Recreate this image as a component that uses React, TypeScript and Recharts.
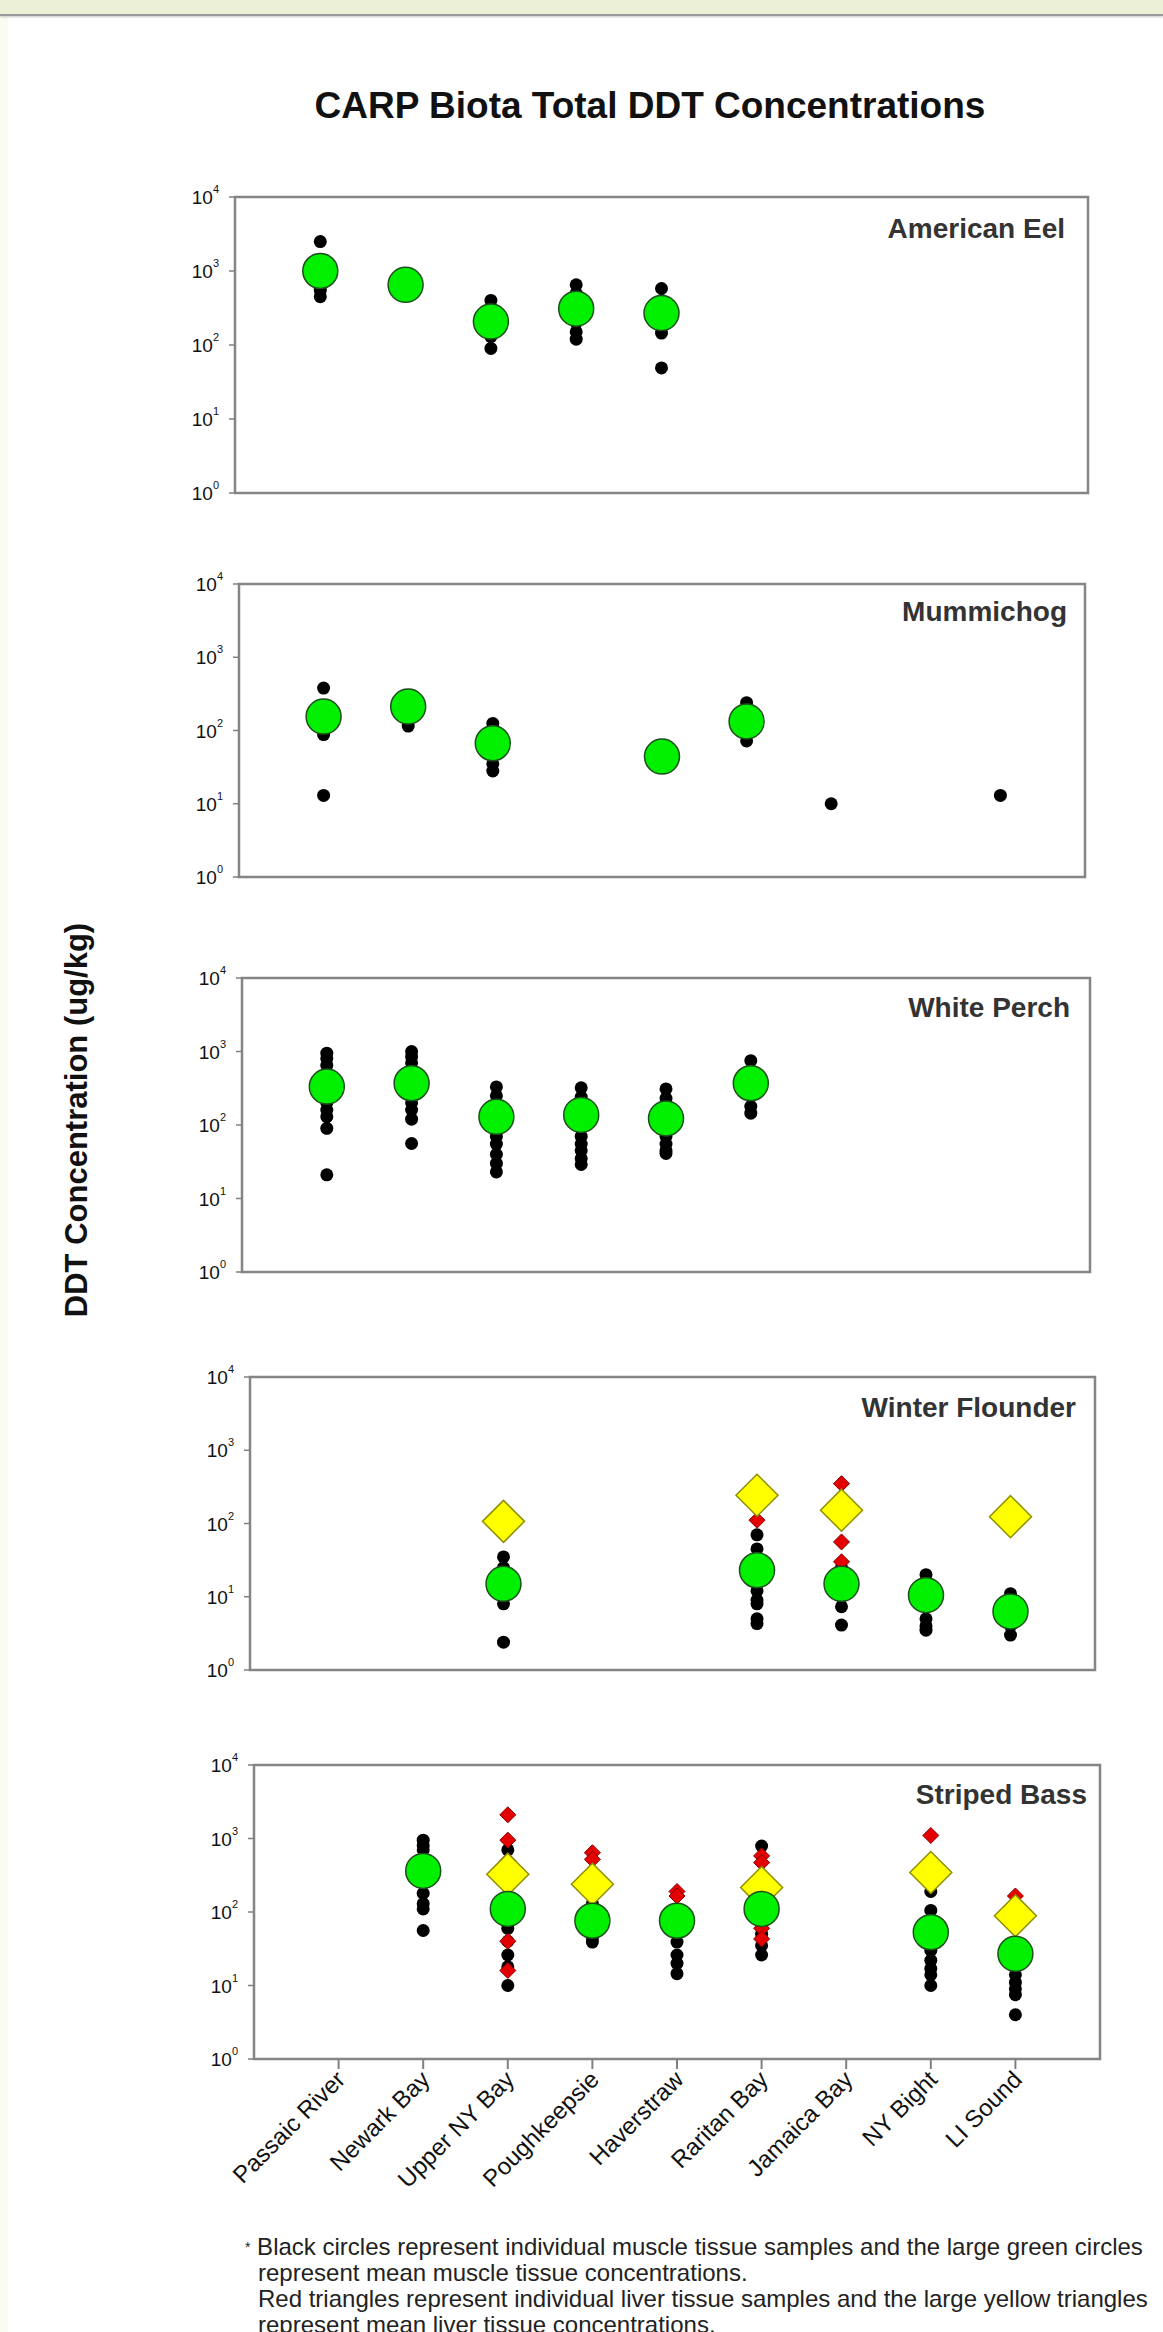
import { ScatterChart, Scatter, XAxis, YAxis, ReferenceArea } from "recharts";

const sites = [
  "Passaic River",
  "Newark Bay",
  "Upper NY Bay",
  "Poughkeepsie",
  "Haverstraw",
  "Raritan Bay",
  "Jamaica Bay",
  "NY Bight",
  "LI Sound",
];
const siteTicks = [1, 2, 3, 4, 5, 6, 7, 8, 9];
const decadeTicks = [1, 10, 100, 1000, 10000];

// American Eel
const eelMuscle = [
  [2500, 1300, 800, 550, 450],
  [850, 600, 520],
  [400, 300, 200, 130, 90],
  [650, 500, 300, 200, 150, 120],
  [580, 400, 250, 180, 145, 49],
  [], [], [], [],
];
const eelMuscleMean = [1000, 650, 207, 310, 270, null, null, null, null];

// Mummichog
const mummMuscle = [
  [380, 200, 120, 88, 13],
  [300, 200, 115],
  [125, 80, 50, 35, 28],
  [],
  [48, 42],
  [240, 150, 100, 72],
  [10],
  [],
  [13],
];
const mummMuscleMean = [155, 212, 67, null, 44, 133, null, null, null];

// White Perch
const perchMuscle = [
  [950, 800, 650, 500, 250, 200, 160, 130, 90, 21],
  [1000, 850, 700, 200, 160, 120, 56],
  [330, 250, 180, 90, 70, 55, 40, 30, 23],
  [320, 240, 90, 70, 55, 45, 35, 29],
  [310, 230, 90, 70, 55, 45, 41],
  [750, 500, 250, 180, 145],
  [], [], [],
];
const perchMuscleMean = [333, 370, 129, 137, 123, 370, null, null, null];

// Winter Flounder
const flounderMuscle = [
  [], [],
  [35, 25, 12, 8, 2.4],
  [], [],
  [70, 45, 30, 15, 12, 9, 8, 5, 4.3],
  [25, 15, 10, 7.3, 4.1],
  [20, 15, 8, 5, 4, 3.5],
  [11, 8, 5, 4, 3],
];
const flounderMuscleMean = [null, null, 15, null, null, 23, 15, 10.5, 6.3];
const flounderLiver = [
  [], [], [], [], [],
  [300, 111],
  [350, 200, 56, 30],
  [], [],
];
const flounderLiverMean = [null, null, 107, null, null, 243, 152, null, 124];

// Striped Bass
const bassMuscle = [
  [],
  [950, 800, 700, 250, 180, 130, 110, 56],
  [700, 300, 150, 80, 60, 40, 26, 18, 10],
  [130, 90, 60, 45, 39],
  [100, 70, 50, 39, 26, 20, 14.5],
  [790, 250, 150, 80, 50, 35, 26],
  [],
  [190, 105, 70, 40, 30, 22, 17, 14, 10],
  [18, 14, 11, 9, 7.5, 4],
];
const bassMuscleMean = [null, 362, 110, 76, 76, 110, null, 53, 27];
const bassLiver = [
  [], [],
  [2100, 950, 500, 40, 16],
  [640, 520, 350],
  [190, 165],
  [580, 470, 300, 60, 43],
  [],
  [1100, 250],
  [165, 110],
];
const bassLiverMean = [null, null, 327, 239, null, 215, null, 344, 89];

type Pt = { x: number; y: number };
const samplePoints = (rows: number[][]): Pt[] =>
  rows.flatMap((vals, i) => vals.map((y) => ({ x: i + 1, y })));
const meanPoints = (vals: (number | null)[]): Pt[] =>
  vals.flatMap((y, i) => (y == null ? [] : [{ x: i + 1, y }]));

// box = [left, top, right, bottom] of each framed plot, in page pixels
const panels = [
  { name: "American Eel", box: [235, 197, 1088, 493], labelRight: 1065, labelY: 229,
    muscle: eelMuscle, muscleMean: eelMuscleMean, liver: [], liverMean: [] },
  { name: "Mummichog", box: [239, 584, 1085, 877], labelRight: 1067, labelY: 612,
    muscle: mummMuscle, muscleMean: mummMuscleMean, liver: [], liverMean: [] },
  { name: "White Perch", box: [242, 978, 1090, 1272], labelRight: 1070, labelY: 1008,
    muscle: perchMuscle, muscleMean: perchMuscleMean, liver: [], liverMean: [] },
  { name: "Winter Flounder", box: [250, 1377, 1095, 1670], labelRight: 1076, labelY: 1408,
    muscle: flounderMuscle, muscleMean: flounderMuscleMean, liver: flounderLiver, liverMean: flounderLiverMean },
  { name: "Striped Bass", box: [254, 1765, 1100, 2059], labelRight: 1087, labelY: 1795,
    muscle: bassMuscle, muscleMean: bassMuscleMean, liver: bassLiver, liverMean: bassLiverMean },
];

const FONT = "'Liberation Sans', Arial, sans-serif";

const diamond = (cx: number, cy: number, h: number) =>
  `${cx},${cy - h} ${cx + h},${cy} ${cx},${cy + h} ${cx - h},${cy}`;

const BlackDot = (p: any) => <circle cx={p.cx} cy={p.cy} r={6.5} fill="#000" />;
const GreenDot = (p: any) => (
  <circle cx={p.cx} cy={p.cy} r={17.5} fill="#00f000" stroke="#1c4f1c" strokeWidth={1.5} />
);
const RedDiamond = (p: any) => (
  <polygon points={diamond(p.cx, p.cy, 8)} fill="#e40000" stroke="#8a0000" strokeWidth={1} />
);
const YellowDiamond = (p: any) => (
  <polygon points={diamond(p.cx, p.cy, 21)} fill="#ffff00" stroke="#8f8f00" strokeWidth={1.5} />
);

const PowerTick = ({ x, y, payload }: any) => {
  const exp = Math.round(Math.log10(payload.value));
  return (
    <text x={x} y={y} textAnchor="end" dominantBaseline="central" fontFamily={FONT} fontSize={19} fill="#111">
      <tspan>10</tspan>
      <tspan dy={-8} fontSize={11}>{exp}</tspan>
    </text>
  );
};

const SiteTick = ({ x, y, payload }: any) => {
  const ax = x + 8;
  const ay = y + 10;
  return (
    <text x={ax} y={ay} transform={`rotate(-45, ${ax}, ${ay})`} textAnchor="end"
      fontFamily={FONT} fontSize={24} fill="#111">
      {sites[payload.value - 1]}
    </text>
  );
};

function Panel({ panel, last }: { panel: (typeof panels)[number]; last: boolean }) {
  const [L, T, R, B] = panel.box;
  const yAxisW = 80;
  const padTop = 26;
  const pad = 14;
  const bottomH = 190;
  const width = R - L + yAxisW + pad;
  const height = B - T + padTop + (last ? bottomH : pad);
  return (
    <>
      <div style={{ position: "absolute", left: L - yAxisW, top: T - padTop }}>
        <ScatterChart width={width} height={height}
          margin={{ top: padTop, right: pad, bottom: last ? 0 : pad, left: 0 }}>
          <XAxis type="number" dataKey="x" domain={[0, 10]} ticks={siteTicks} interval={0}
            hide={!last} height={bottomH} tick={<SiteTick />} tickSize={10}
            tickLine={{ stroke: "#808080", strokeWidth: 2 }} axisLine={false} allowDataOverflow />
          <YAxis type="number" dataKey="y" scale="log" domain={[1, 10000]} ticks={decadeTicks}
            interval={0} width={yAxisW} tick={<PowerTick />} tickSize={6} tickMargin={10}
            tickLine={{ stroke: "#808080", strokeWidth: 1.5 }} axisLine={false} allowDataOverflow />
          <ReferenceArea x1={0} x2={10} y1={1} y2={10000} fill="none" fillOpacity={0}
            stroke="#858585" strokeWidth={2.5} ifOverflow="visible" />
          <Scatter data={samplePoints(panel.muscle)} shape={BlackDot} isAnimationActive={false} />
          <Scatter data={samplePoints(panel.liver)} shape={RedDiamond} isAnimationActive={false} />
          <Scatter data={meanPoints(panel.liverMean)} shape={YellowDiamond} isAnimationActive={false} />
          <Scatter data={meanPoints(panel.muscleMean)} shape={GreenDot} isAnimationActive={false} />
        </ScatterChart>
      </div>
      <div style={{
        position: "absolute", right: 1163 - panel.labelRight, top: panel.labelY - 16,
        fontFamily: FONT, fontWeight: "bold", fontSize: 28, lineHeight: "32px", color: "#333",
        whiteSpace: "nowrap",
      }}>
        {panel.name}
      </div>
    </>
  );
}

export default function App() {
  return (
    <div style={{ position: "absolute", left: 0, top: 0, width: 1163, height: 2332, background: "#fff", overflow: "hidden" }}>
      <div style={{ position: "absolute", left: 0, top: 0, width: 8, height: 2332, background: "#fbfbf1" }} />
      <div style={{ position: "absolute", left: 0, top: 0, width: 1163, height: 14, background: "#ecf0d6",
        borderBottom: "2px solid #9a9a9a", boxShadow: "0 1px 2px #c8c8c8" }} />
      <svg width={1163} height={2332} style={{ position: "absolute", left: 0, top: 0 }}>
        <text x={650} y={105} textAnchor="middle" dominantBaseline="central" fontFamily={FONT}
          fontWeight="bold" fontSize={37} fill="#111">
          CARP Biota Total DDT Concentrations
        </text>
        <text x={76} y={1120} textAnchor="middle" dominantBaseline="central" fontFamily={FONT}
          fontWeight="bold" fontSize={31} fill="#111" transform="rotate(-90, 76, 1120)">
          DDT Concentration (ug/kg)
        </text>
      </svg>
      {panels.map((p, i) => (
        <Panel key={p.name} panel={p} last={i === panels.length - 1} />
      ))}
      <div style={{ position: "absolute", left: 245, top: 2234, fontFamily: FONT, fontSize: 24,
        lineHeight: "26px", color: "#222", whiteSpace: "nowrap" }}>
        <div><span style={{ fontSize: 14, verticalAlign: "top" }}>*</span> Black circles represent individual muscle tissue samples and the large green circles</div>
        <div style={{ paddingLeft: 13 }}>represent mean muscle tissue concentrations.</div>
        <div style={{ paddingLeft: 13 }}>Red triangles represent individual liver tissue samples and the large yellow triangles</div>
        <div style={{ paddingLeft: 13 }}>represent mean liver tissue concentrations.</div>
      </div>
    </div>
  );
}
